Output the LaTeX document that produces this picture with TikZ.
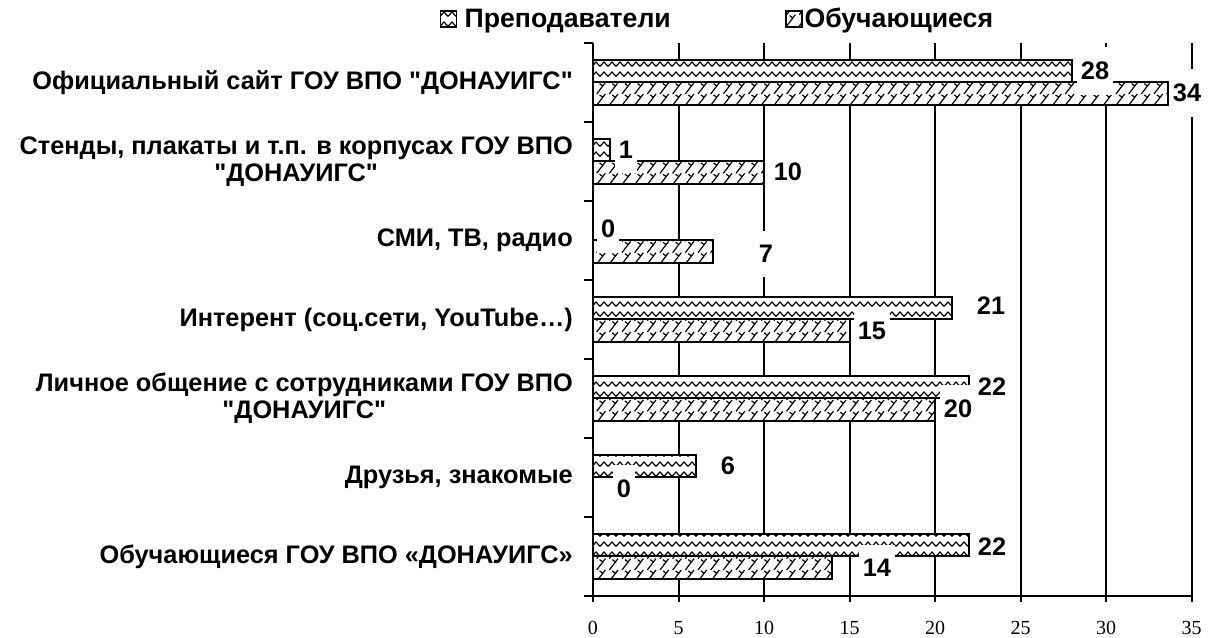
\documentclass[tikz,border=0pt]{standalone}
\usepackage{fontspec}
\setmainfont{Liberation Sans}
\newfontfamily\tickfont{Liberation Serif}
\usepackage{tikz}
\usetikzlibrary{patterns}

\newcommand{\barfont}{\bfseries\fontsize{19}{20.25}\selectfont}
\newcommand{\qq}{\XeTeXglyph\XeTeXcharglyph34\relax}

\pgfdeclarepatternformonly{waves}{\pgfpoint{-1pt}{-1pt}}{\pgfpoint{7pt}{8.5pt}}{\pgfpoint{6pt}{7.5pt}}{
	\pgfsetlinewidth{0.9pt}
	\pgfsetroundjoin
	\pgfpathmoveto{\pgfpoint{0pt}{1.2pt}}
	\pgfpathlineto{\pgfpoint{3pt}{4.5pt}}
	\pgfpathlineto{\pgfpoint{6pt}{1.2pt}}
	\pgfusepath{stroke}
}
\pgfdeclarepatternformonly{shingles}{\pgfpoint{-1pt}{-1pt}}{\pgfpoint{10.5pt}{9.5pt}}{\pgfpoint{9.5pt}{8.5pt}}{
	\pgfsetlinewidth{0.9pt}
	\pgfpathmoveto{\pgfpoint{1pt}{0pt}}
	\pgfpathlineto{\pgfpoint{7.5pt}{8.5pt}}
	\pgfpathmoveto{\pgfpoint{5.6pt}{6pt}}
	\pgfpathlineto{\pgfpoint{3.2pt}{7.8pt}}
	\pgfusepath{stroke}
}

\tikzset{
	gridln/.style={line width=1.5pt},
	teachbar/.style={draw,line width=1.5pt,preaction={fill=white},pattern=waves},
	studbar/.style={draw,line width=1.5pt,preaction={fill=white},pattern=shingles},
	vallbl/.style={fill=white,inner xsep=3pt,inner ysep=11pt,font=\barfont},
	catlbl/.style={anchor=east,align=center,inner sep=0pt,font=\barfont},
	leglbl/.style={anchor=base west,inner sep=0pt,font=\bfseries\fontsize{20}{22}\selectfont},
	legkey/.style={draw,line width=1.3pt,preaction={fill=white},inner sep=0pt,minimum size=12pt},
	ticklbl/.style={inner sep=0pt,font=\tickfont\fontsize{15}{18}\selectfont},
}

\begin{document}
\begin{tikzpicture}[x=12.829pt,y=-59.25pt]
			\useasboundingbox (-34.668,-0.5443) rectangle (36.539,7.5316);
			%\draw [help lines] (0,0) grid (35,7);
			\draw[gridln] (5,0) -- (5,7);
			\draw[gridln] (10,0) -- (10,7);
			\draw[gridln] (15,0) -- (15,7);
			\draw[gridln] (20,0) -- (20,7);
			\draw[gridln] (25,0) -- (25,7);
			\draw[gridln] (30,0) -- (30,7);
			\draw[gridln] (35,0) -- (35,7);

			\draw[teachbar] (0,0.215) rectangle (28,0.5);
			\draw[studbar] (0,0.5) rectangle (33.6,0.785);
			\draw[teachbar] (0,1.215) rectangle (1,1.5);
			\draw[studbar] (0,1.5) rectangle (10,1.785);
			\draw[studbar] (0,2.5) rectangle (7,2.785);
			\draw[teachbar] (0,3.215) rectangle (21,3.5);
			\draw[studbar] (0,3.5) rectangle (15,3.785);
			\draw[teachbar] (0,4.215) rectangle (22,4.5);
			\draw[studbar] (0,4.5) rectangle (20,4.785);
			\draw[teachbar] (0,5.215) rectangle (6,5.5);
			\draw[teachbar] (0,6.215) rectangle (22,6.5);
			\draw[studbar] (0,6.5) rectangle (14,6.785);

			\draw[gridln] (0,0) -- (0,7) -- (35,7);
			\draw[gridln] (-0.526,0) -- (0,0);
			\draw[gridln] (-0.526,1) -- (0,1);
			\draw[gridln] (-0.526,2) -- (0,2);
			\draw[gridln] (-0.526,3) -- (0,3);
			\draw[gridln] (-0.526,4) -- (0,4);
			\draw[gridln] (-0.526,5) -- (0,5);
			\draw[gridln] (-0.526,6) -- (0,6);
			\draw[gridln] (-0.526,7) -- (0,7);
			\draw[gridln] (0,7) -- (0,7.076);
			\draw[gridln] (5,7) -- (5,7.076);
			\draw[gridln] (10,7) -- (10,7.076);
			\draw[gridln] (15,7) -- (15,7.076);
			\draw[gridln] (20,7) -- (20,7.076);
			\draw[gridln] (25,7) -- (25,7.076);
			\draw[gridln] (30,7) -- (30,7.076);
			\draw[gridln] (35,7) -- (35,7.076);

			\node[vallbl] (v1t) at (29.35,0.354) {28};
			\node[vallbl] (v1s) at (34.73,0.633) {34};
			\node[vallbl] (v2t) at (1.93,1.354) {1};
			\node[vallbl] (v2s) at (11.40,1.629) {10};
			\node[vallbl] (v3t) at (0.88,2.354) {0};
			\node[vallbl] (v3s) at (10.11,2.671) {7};
			\node[vallbl] (v4t) at (23.27,3.329) {21};
			\node[vallbl] (v4s) at (16.31,3.646) {15};
			\node[vallbl] (v5t) at (23.33,4.351) {22};
			\node[vallbl] (v5s) at (21.34,4.633) {20};
			\node[vallbl] (v6t) at (7.89,5.354) {6};
			\node[vallbl] (v6s) at (1.81,5.646) {0};
			\node[vallbl] (v7t) at (23.33,6.376) {22};
			\node[vallbl] (v7s) at (16.60,6.646) {14};

			\node[catlbl] (c1) at (-1.169,0.5) {Официальный сайт ГОУ ВПО \qq ДОНАУИГС\qq};
			\node[catlbl] (c2) at (-1.169,1.5) {Стенды, плакаты и т.п. в корпусах ГОУ ВПО\\\qq ДОНАУИГС\qq};
			\node[catlbl] (c3) at (-1.169,2.5) {СМИ, ТВ, радио};
			\node[catlbl] (c4) at (-1.169,3.5) {Интерент (соц.сети, YouTube…)};
			\node[catlbl] (c5) at (-1.169,4.5) {Личное общение с сотрудниками ГОУ ВПО\\\qq ДОНАУИГС\qq};
			\node[catlbl] (c6) at (-1.169,5.5) {Друзья, знакомые};
			\node[catlbl] (c7) at (-1.169,6.5) {Обучающиеся ГОУ ВПО «ДОНАУИГС»};

			\node[ticklbl] (t0) at (0,7.405) {0};
			\node[ticklbl] (t5) at (5,7.405) {5};
			\node[ticklbl] (t10) at (10,7.405) {10};
			\node[ticklbl] (t15) at (15,7.405) {15};
			\node[ticklbl] (t20) at (20,7.405) {20};
			\node[ticklbl] (t25) at (25,7.405) {25};
			\node[ticklbl] (t30) at (30,7.405) {30};
			\node[ticklbl] (t35) at (35,7.405) {35};

			\node[legkey,pattern=waves] (kt) at (-8.45,-0.304) {};
			\node[leglbl] (lt) at (-7.52,-0.2) {Преподаватели};
			\node[legkey,pattern=shingles] (ks) at (11.75,-0.304) {};
			\node[leglbl] (ls) at (12.35,-0.2) {Обучающиеся};
		\end{tikzpicture}
\end{document}
